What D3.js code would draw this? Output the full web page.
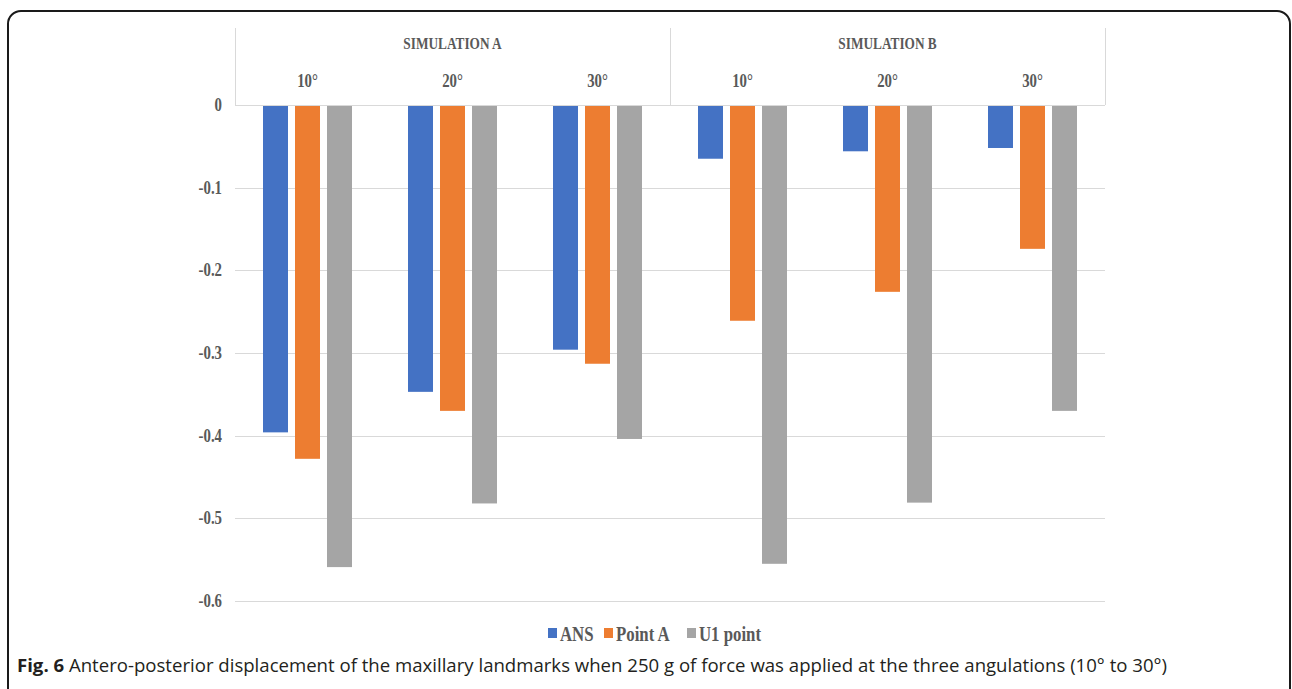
<!DOCTYPE html>
<html>
<head>
<meta charset="utf-8">
<script src="https://cdn.jsdelivr.net/npm/d3@7"></script>
<style>
  html, body { margin: 0; padding: 0; background: #fff; }
  svg { display: block; }
</style>
</head>
<body>
<svg id="chart" width="1292" height="689"></svg>
<script>
// ---- data ----
const groups = ["SIMULATION A", "SIMULATION B"];
const angles = ["10°", "20°", "30°"];
const categories = ["A-10°", "A-20°", "A-30°", "B-10°", "B-20°", "B-30°"];
const seriesNames = ["ANS", "Point A", "U1 point"];
const ansValues = [-0.396, -0.347, -0.296, -0.065, -0.056, -0.052];
const pointAValues = [-0.428, -0.370, -0.313, -0.261, -0.226, -0.174];
const u1Values = [-0.559, -0.482, -0.404, -0.555, -0.481, -0.370];
const yTicks = [0, -0.1, -0.2, -0.3, -0.4, -0.5, -0.6];
const yTickLabels = ["0", "-0.1", "-0.2", "-0.3", "-0.4", "-0.5", "-0.6"];
const colors = ["#4472C4", "#ED7D31", "#A5A5A5"];
const caption = "Antero-posterior displacement of the maxillary landmarks when 250 g of force was applied at the three angulations (10° to 30°)";

const seriesValues = [ansValues, pointAValues, u1Values];

(function () {
const svg = d3.select("#chart");
const textColor = "#595959";
const serif = "'Liberation Serif', 'DejaVu Serif', serif";
const sx = 0.76;

// outer frame
svg.append("rect")
  .attr("x", 8).attr("y", 11).attr("width", 1282).attr("height", 720)
  .attr("rx", 13).attr("ry", 13)
  .attr("fill", "none").attr("stroke", "#1a1a1a").attr("stroke-width", 2);

const pLeft = 235, pRight = 1105, pTop = 105, pBottom = 601;
const x0 = d3.scaleBand().domain(categories).range([pLeft, pRight]).paddingInner(0).paddingOuter(0);
const x1 = d3.scaleBand().domain(seriesNames).range([0, x0.bandwidth()])
  .paddingInner(7 / 32).paddingOuter(0.875);
const y = d3.scaleLinear().domain([0, -0.6]).range([pTop, pBottom]);

// gridlines
svg.append("g").selectAll("line").data(yTicks.filter(d => d !== 0)).join("line")
  .attr("x1", pLeft).attr("x2", pRight)
  .attr("y1", d => Math.round(y(d)) + 0.5).attr("y2", d => Math.round(y(d)) + 0.5)
  .attr("stroke", "#d9d9d9").attr("stroke-width", 1);

// y tick labels
svg.append("g").selectAll("text").data(yTicks).join("text")
  .attr("transform", d => `translate(222,${y(d) + 6}) scale(${sx},1)`)
  .attr("text-anchor", "end")
  .attr("font-family", serif).attr("font-weight", "bold").attr("font-size", 19.5)
  .attr("fill", textColor)
  .text((d, i) => yTickLabels[i]);

// bars
const barData = [];
categories.forEach((c, i) => {
  seriesNames.forEach((s, j) => barData.push({ cat: c, series: s, value: seriesValues[j][i], color: colors[j] }));
});
svg.append("g").selectAll("rect").data(barData).join("rect")
  .attr("x", d => x0(d.cat) + x1(d.series))
  .attr("y", d => y(0))
  .attr("width", x1.bandwidth())
  .attr("height", d => y(d.value) - y(0))
  .attr("fill", d => d.color);

// category axis (top): zero line + group dividers
const axisG = svg.append("g");
axisG.append("line")
  .attr("x1", pLeft).attr("x2", pRight).attr("y1", pTop + 0.5).attr("y2", pTop + 0.5)
  .attr("stroke", "#d9d9d9");
const groupBounds = [pLeft, x0(categories[3]), pRight];
axisG.selectAll("line.div").data(groupBounds).join("line").attr("class", "div")
  .attr("x1", d => Math.round(d) + 0.5).attr("x2", d => Math.round(d) + 0.5)
  .attr("y1", 28).attr("y2", pTop)
  .attr("stroke", "#d9d9d9");

// angle labels
axisG.selectAll("text.ang").data(categories).join("text").attr("class", "ang")
  .attr("transform", d => `translate(${x0(d) + x0.bandwidth() / 2},87) scale(${sx},1)`)
  .attr("text-anchor", "middle")
  .attr("font-family", serif).attr("font-weight", "bold").attr("font-size", 19.5)
  .attr("fill", textColor)
  .text((d, i) => angles[i % 3]);

// group labels
axisG.selectAll("text.grp").data(groups).join("text").attr("class", "grp")
  .attr("transform", (d, i) => `translate(${(groupBounds[i] + groupBounds[i + 1]) / 2},49) scale(${sx},1)`)
  .attr("text-anchor", "middle")
  .attr("font-family", serif).attr("font-weight", "bold").attr("font-size", 17.5)
  .attr("fill", textColor)
  .text(d => d);

// legend
const legendX = [548, 604, 687];
const lg = svg.append("g").selectAll("g").data(seriesNames).join("g")
  .attr("transform", (d, i) => `translate(${legendX[i]},0)`);
lg.append("rect").attr("x", 0).attr("y", 628).attr("width", 9).attr("height", 10)
  .attr("fill", (d, i) => colors[i]);
lg.append("text")
  .attr("transform", `translate(12,641) scale(0.8,1)`)
  .attr("font-family", serif).attr("font-weight", "bold").attr("font-size", 21)
  .attr("fill", textColor)
  .text(d => d);

// caption
const cap = svg.append("text")
  .attr("x", 17).attr("y", 672)
  .attr("font-family", "'Open Sans', 'Liberation Sans', sans-serif")
  .attr("font-size", 18.5).attr("fill", "#231f20")
  .attr("textLength", 1150).attr("lengthAdjust", "spacingAndGlyphs");
cap.append("tspan").attr("font-weight", "bold").text("Fig. 6");
cap.append("tspan").attr("font-weight", 400).text(" " + caption);
})();
</script>
</body>
</html>
